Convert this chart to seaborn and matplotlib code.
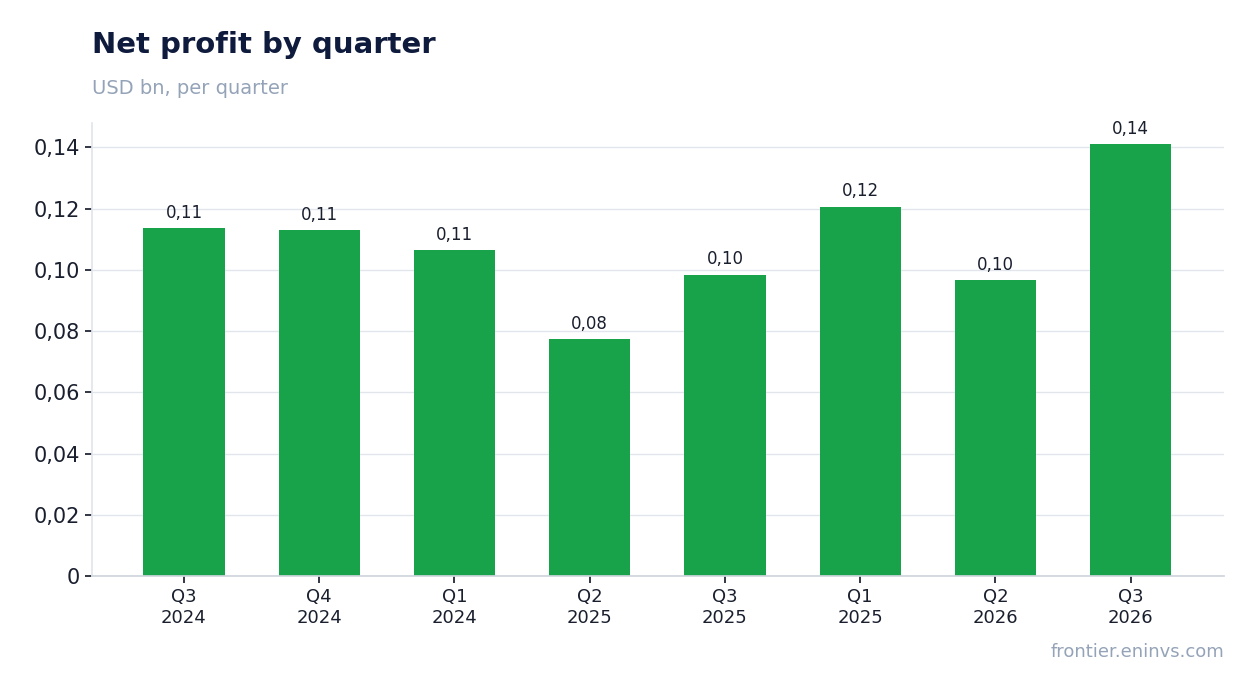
import matplotlib
matplotlib.use("Agg")
import matplotlib.pyplot as plt
import seaborn as sns
import pandas as pd
from matplotlib.ticker import FuncFormatter

quarters = ["Q3\n2024", "Q4\n2024", "Q1\n2024", "Q2\n2025", "Q3\n2025", "Q1\n2025", "Q2\n2026", "Q3\n2026"]
profit = [0.1138, 0.1129, 0.1066, 0.0775, 0.0985, 0.1207, 0.0968, 0.1410]

df = pd.DataFrame({"quarter": quarters, "profit": profit})

sns.set_theme(style="white")
plt.rcParams["font.family"] = ["DejaVu Sans"]

fig = plt.figure(figsize=(12.54, 6.93), dpi=100)
ax = fig.add_axes([92 / 1254, 1 - 576 / 693, (1224 - 92) / 1254, (576 - 123) / 693])

sns.barplot(data=df, x="quarter", y="profit", color="#18a34a", saturation=1, width=0.6,
            linewidth=0, ax=ax)

for i, v in enumerate(profit):
    ax.text(i, v + 0.002, f"{v:.2f}".replace(".", ","), ha="center", va="bottom",
            fontsize=12, color="#1a1f2e")

ax.set_xlim(-0.68, 7.69)
ax.set_ylim(0, 0.148)
ax.set_yticks([0, 0.02, 0.04, 0.06, 0.08, 0.10, 0.12, 0.14])
ax.yaxis.set_major_formatter(FuncFormatter(lambda v, p: "0" if v == 0 else f"{v:.2f}".replace(".", ",")))
ax.grid(axis="y", color="#e2e6ec", linewidth=1)
ax.set_axisbelow(True)
ax.set_xlabel("")
ax.set_ylabel("")
for s in ["top", "right"]:
    ax.spines[s].set_visible(False)
ax.spines["left"].set_color("#e2e6ec")
ax.spines["bottom"].set_color("#d0d5dd")
ax.tick_params(axis="y", labelsize=15, colors="#1a1f2e", length=5, left=True, color="#1a1f2e")
ax.tick_params(axis="x", labelsize=13, colors="#1a1f2e", length=5, bottom=True, color="#1a1f2e")

fig.text(92 / 1254, 1 - 45 / 693, "Net profit by quarter", fontsize=21, fontweight="bold",
         color="#0f1b3d", va="center")
fig.text(92 / 1254, 1 - 88 / 693, "USD bn, per quarter", fontsize=14, color="#94a3b8", va="center")
fig.text(1224 / 1254, 1 - 652 / 693, "frontier.eninvs.com", fontsize=13, color="#94a3b8",
         ha="right", va="center")

fig.savefig("out.png", dpi=100)
